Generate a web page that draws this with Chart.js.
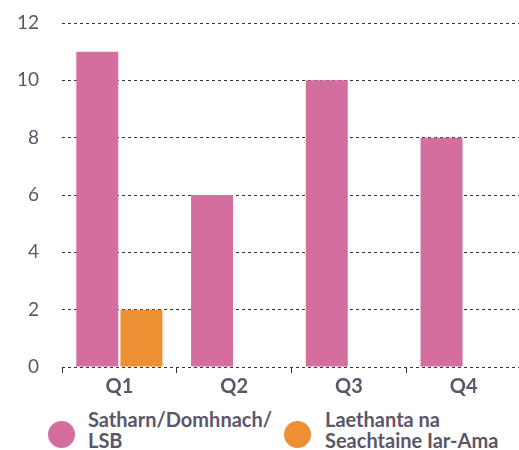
<!DOCTYPE html>
<html>
<head>
<meta charset="utf-8">
<script src="https://cdn.jsdelivr.net/npm/chart.js@4"></script>
<style>
  body { margin: 0; background: #fff; font-family: Lato, sans-serif; overflow: hidden; }
  #wrap { position: relative; width: 519px; height: 450px; overflow: hidden; }
  #chart-box { position: absolute; left: 0; top: 0; width: 522px; height: 402px; }
  .legend-dot { position: absolute; top: 421px; width: 27px; height: 27px; border-radius: 50%; }
  .legend-text { position: absolute; top: 409px; white-space: nowrap;
                 font-weight: 700; font-size: 20px; line-height: 21px; color: #5c566b; }
</style>
</head>
<body>
<div id="wrap">
  <div id="chart-box"><canvas id="quarter-chart"></canvas></div>
  <div class="legend-dot" style="left:48px; background:#d46e9f"></div>
  <div class="legend-text" style="left:88px">Satharn/Domhnach/<br>LSB</div>
  <div class="legend-dot" style="left:284px; background:#ed8f33"></div>
  <div class="legend-text" style="left:325px">Laethanta na<br>Seachtaine Iar-Ama</div>
</div>
<script>
const quarters = ["Q1", "Q2", "Q3", "Q4"];
const weekendValues = [11, 6, 10, 8];
const weekdayValues = [2, null, null, null];
const seriesNames = ["Satharn/Domhnach/LSB", "Laethanta na Seachtaine Iar-Ama"];

const textColor = "#5c566b";

new Chart(document.getElementById("quarter-chart"), {
  type: "bar",
  data: {
    labels: quarters,
    datasets: [
      {
        label: seriesNames[0],
        data: weekendValues,
        backgroundColor: "#d46e9f",
        categoryPercentage: 0.77,
        barPercentage: 0.95,
      },
      {
        label: seriesNames[1],
        data: weekdayValues,
        backgroundColor: "#ed8f33",
        categoryPercentage: 0.77,
        barPercentage: 0.95,
      },
    ],
  },
  options: {
    maintainAspectRatio: false,
    responsive: true,
    animation: false,
    layout: { padding: { top: 0, right: 1, left: 0, bottom: 0 } },
    plugins: {
      legend: { display: false },
      tooltip: { enabled: false },
    },
    scales: {
      x: {
        border: { display: false },
        grid: {
          offset: true,
          drawOnChartArea: false,
          tickLength: 6,
          color: "#333",
        },
        ticks: {
          color: textColor,
          padding: 2,
          font: { family: "Lato", size: 20, weight: "bold" },
        },
        afterFit: (scale) => { scale.height = 35; },
      },
      y: {
        min: 0,
        max: 12,
        // dashed horizontal grid lines
        border: { display: false, dash: [3, 3] },
        grid: { drawTicks: false, color: "#333", lineWidth: 1 },
        ticks: {
          stepSize: 2,
          color: textColor,
          padding: 23,
          // zero line height keeps the tick padding from pushing the plot down
          font: { family: "Lato", size: 19, lineHeight: 0 },
        },
        afterFit: (scale) => { scale.width = 62; },
      },
    },
  },
});
</script>
</body>
</html>
